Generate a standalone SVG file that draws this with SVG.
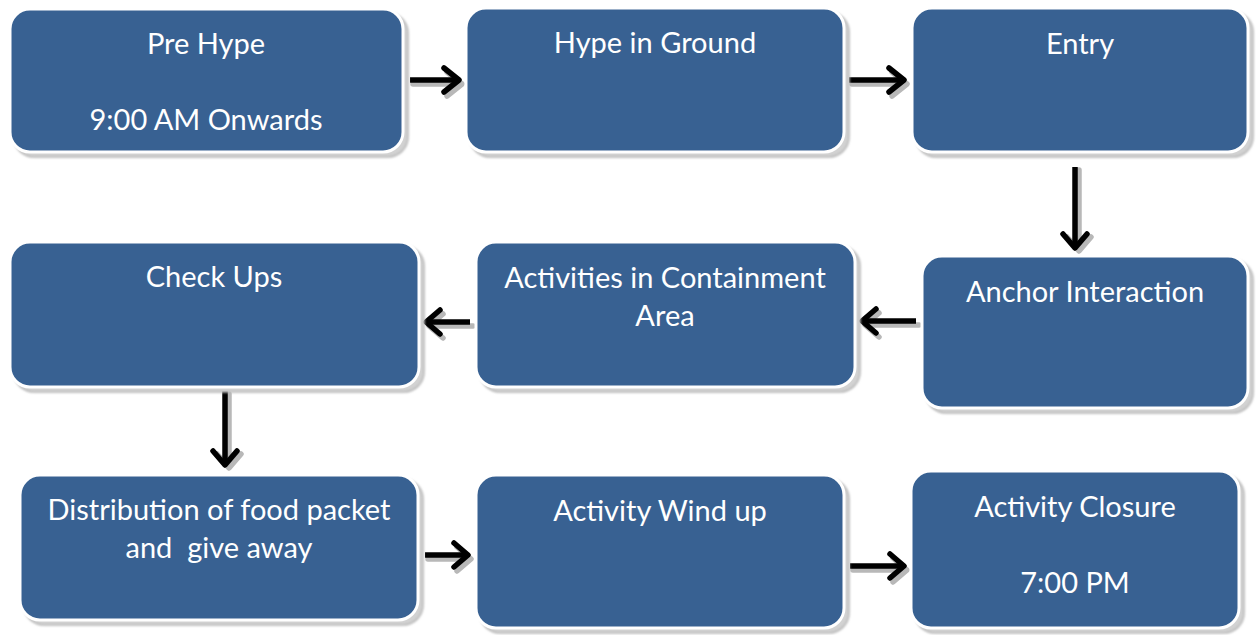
<svg xmlns="http://www.w3.org/2000/svg" width="1256" height="635" viewBox="0 0 1256 635">
  <defs>
    <filter id="soft" x="-10%" y="-10%" width="120%" height="130%">
      <feGaussianBlur stdDeviation="0.8"/>
    </filter>
    <filter id="arrowShadow" x="-20%" y="-20%" width="140%" height="140%">
      <feGaussianBlur stdDeviation="0.6"/>
    </filter>
  </defs>
  <style>
    .shadow { fill: #d2d2d2; stroke: #b4b4b4; stroke-width: 1.5; filter: url(#soft); }
    .box { fill: #386192; stroke: #ffffff; stroke-width: 3; }
    .label { fill: #ffffff; font-family: Lato, "Open Sans", sans-serif; font-size: 29px; text-anchor: middle; white-space: pre; }
    .line { fill: none; stroke: #000000; stroke-width: 5.5; stroke-linecap: butt; stroke-linejoin: round; }
    .head { fill: none; stroke: #000000; stroke-width: 5.5; stroke-linecap: round; stroke-linejoin: round; }
    .ashadow { fill: none; stroke: #b8b8b8; stroke-width: 5.5; stroke-linecap: round; stroke-linejoin: round; filter: url(#arrowShadow); }
  </style>

  <!-- connectors -->
  <g id="connectors">
    <!-- Pre Hype -> Hype in Ground -->
    <g transform="translate(3,4)"><path class="ashadow" d="M410 80 H458 M444 68 L459 80 L444 92"/></g>
    <path class="line" d="M410 80 H457"/>
    <path class="head" d="M444 68 L459 80 L444 92"/>

    <!-- Hype in Ground -> Entry -->
    <g transform="translate(3,4)"><path class="ashadow" d="M849 80 H902 M889 68 L904 80 L889 92"/></g>
    <path class="line" d="M849 80 H902"/>
    <path class="head" d="M889 68 L904 80 L889 92"/>

    <!-- Entry -> Anchor Interaction -->
    <g transform="translate(4,3)"><path class="ashadow" d="M1075 167 V246 M1063 234 L1075 248 L1087 234"/></g>
    <path class="line" d="M1075 167 V246"/>
    <path class="head" d="M1063 234 L1075 248 L1087 234"/>

    <!-- Anchor Interaction -> Activities in Containment Area -->
    <g transform="translate(3,4)"><path class="ashadow" d="M916 321 H864 M876 309 L862 321 L876 333"/></g>
    <path class="line" d="M916 321 H864"/>
    <path class="head" d="M876 309 L862 321 L876 333"/>

    <!-- Activities in Containment Area -> Check Ups -->
    <g transform="translate(3,4)"><path class="ashadow" d="M470 322 H428 M440 310 L426 322 L440 334"/></g>
    <path class="line" d="M470 322 H428"/>
    <path class="head" d="M440 310 L426 322 L440 334"/>

    <!-- Check Ups -> Distribution of food packet -->
    <g transform="translate(4,3)"><path class="ashadow" d="M225 391 V463 M213 451 L225 465 L237 451"/></g>
    <path class="line" d="M225 391 V463"/>
    <path class="head" d="M213 451 L225 465 L237 451"/>

    <!-- Distribution -> Activity Wind up -->
    <g transform="translate(3,4)"><path class="ashadow" d="M425 555 H466 M454 543 L468 555 L454 567"/></g>
    <path class="line" d="M425 555 H466"/>
    <path class="head" d="M454 543 L468 555 L454 567"/>

    <!-- Activity Wind up -> Activity Closure -->
    <g transform="translate(3,4)"><path class="ashadow" d="M850 566 H902 M890 554 L904 566 L890 578"/></g>
    <path class="line" d="M850 566 H902"/>
    <path class="head" d="M890 554 L904 566 L890 578"/>
  </g>

  <!-- nodes -->
  <g id="pre-hype">
    <rect class="shadow" x="14" y="13" width="394" height="144" rx="20"/>
    <rect class="box" x="10" y="9" width="393" height="143" rx="20"/>
    <text class="label" x="206" y="54">Pre Hype</text>
    <text class="label" x="206" y="130">9:00 AM Onwards</text>
  </g>

  <g id="hype-in-ground">
    <rect class="shadow" x="470" y="12" width="379" height="145" rx="20"/>
    <rect class="box" x="466" y="8" width="378" height="144" rx="20"/>
    <text class="label" x="655" y="53">Hype in Ground</text>
  </g>

  <g id="entry">
    <rect class="shadow" x="916" y="12" width="337" height="145" rx="20"/>
    <rect class="box" x="912" y="8" width="336" height="144" rx="20"/>
    <text class="label" x="1080" y="54">Entry</text>
  </g>

  <g id="anchor-interaction">
    <rect class="shadow" x="926" y="260" width="327" height="153" rx="20"/>
    <rect class="box" x="922" y="256" width="326" height="152" rx="20"/>
    <text class="label" x="1085" y="302">Anchor Interaction</text>
  </g>

  <g id="activities-containment">
    <rect class="shadow" x="480" y="246" width="380" height="146" rx="20"/>
    <rect class="box" x="476" y="242" width="379" height="145" rx="20"/>
    <text class="label" x="665" y="288">Activities in Containment</text>
    <text class="label" x="665" y="326">Area</text>
  </g>

  <g id="check-ups">
    <rect class="shadow" x="14" y="246" width="410" height="146" rx="20"/>
    <rect class="box" x="10" y="242" width="409" height="145" rx="20"/>
    <text class="label" x="214" y="287">Check Ups</text>
  </g>

  <g id="distribution">
    <rect class="shadow" x="24" y="479" width="399" height="146" rx="20"/>
    <rect class="box" x="20" y="475" width="398" height="145" rx="20"/>
    <text class="label" x="219" y="520">Distribution of food packet</text>
    <text class="label" x="219" y="558">and  give away</text>
  </g>

  <g id="activity-wind-up">
    <rect class="shadow" x="480" y="479" width="369" height="154" rx="20"/>
    <rect class="box" x="476" y="475" width="368" height="153" rx="20"/>
    <text class="label" x="660" y="521">Activity Wind up</text>
  </g>

  <g id="activity-closure">
    <rect class="shadow" x="915" y="475" width="329" height="158" rx="20"/>
    <rect class="box" x="911" y="471" width="328" height="157" rx="20"/>
    <text class="label" x="1075" y="517">Activity Closure</text>
    <text class="label" x="1075" y="593">7:00 PM</text>
  </g>
</svg>
